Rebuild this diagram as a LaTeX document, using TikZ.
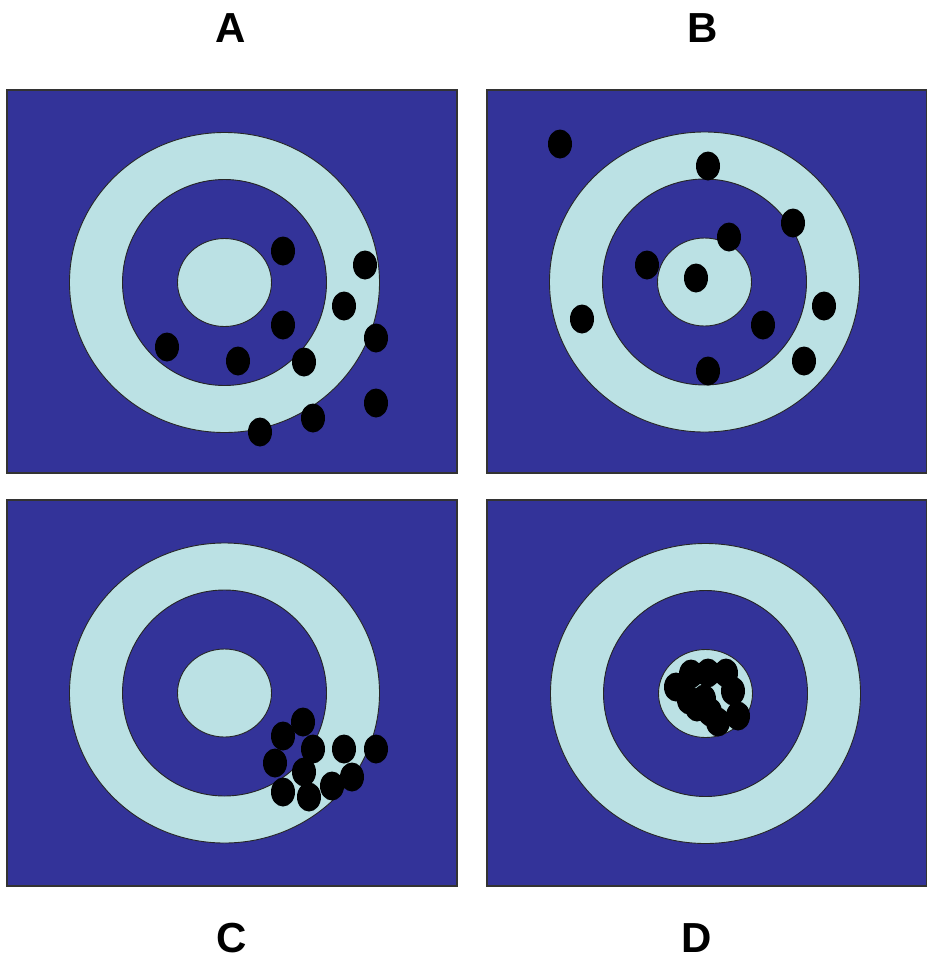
\documentclass[tikz,border=0pt]{standalone}
\usepackage{fontspec}
\setmainfont{Liberation Sans}
\definecolor{boardblue}{RGB}{51,51,153}
\definecolor{ringcyan}{RGB}{187,225,228}
\tikzset{
  board/.style={
    fill=boardblue,
    draw=black!80,
    line width=1.2pt
  },
  ring/.style={
    fill=ringcyan,
    draw=black!85,
    line width=0.9pt
  },
  hole/.style={
    fill=boardblue,
    draw=black!85,
    line width=0.9pt
  },
  shot/.style={
    fill=black
  },
  letter/.style={
    inner sep=0pt,
    font=\bfseries\fontsize{42}{42}\selectfont
  },
  target/.pic={
    \draw[ring] (0,0) ellipse (155pt and 150pt);
    \draw[hole] (0,0) ellipse (102pt and 103pt);
    \draw[ring] (0,0) ellipse (47pt and 44pt);
  }
}

\begin{document}
\begin{tikzpicture}[x=1pt,y=-1pt]
  \useasboundingbox (0,0) rectangle (927,962);
  % the four boards
  \draw[board] (7,90) rectangle (457,473);
  \draw[board] (487,90) rectangle (927,473);
  \draw[board] (7,500) rectangle (457,886);
  \draw[board] (487,500) rectangle (927,886);
  \pic at (224.5,282.5) {target};
  \pic at (704.5,282) {target};
  \pic at (224.5,693) {target};
  \pic at (705.5,693.5) {target};
  % shots
  \foreach \x/\y in {283/251,365/265,344/306,283/325,376/338,167/347,
                     238/361,304/362,376/403,313/418,260/432}
    \fill[shot] (\x,\y) ellipse (12pt and 14.5pt);
  \foreach \x/\y in {560/144,708/166,793/223,729/237,647/265,696/278,
                     582/319,824/306,763/325,804/361,708/371}
    \fill[shot] (\x,\y) ellipse (12pt and 14.5pt);
  \foreach \x/\y in {303/722,283/736,313/749,344/749,376/749,275/763,
                     304/772,352/777,332/786,283/792,309/797}
    \fill[shot] (\x,\y) ellipse (12pt and 14.5pt);
  \foreach \x/\y in {676/687,691/674,708/673,726/673,733/691,689/700,
                     704/699,738/716,718/722,710/712,697/707}
    \fill[shot] (\x,\y) ellipse (12pt and 14.5pt);
  % labels
  \node[letter] (labA) at (231,28.5) {A};
  \node[letter] (labB) at (703,28.5) {B};
  \node[letter] (labC) at (232,938) {C};
  \node[letter] (labD) at (697,938) {D};
\end{tikzpicture}
\end{document}
